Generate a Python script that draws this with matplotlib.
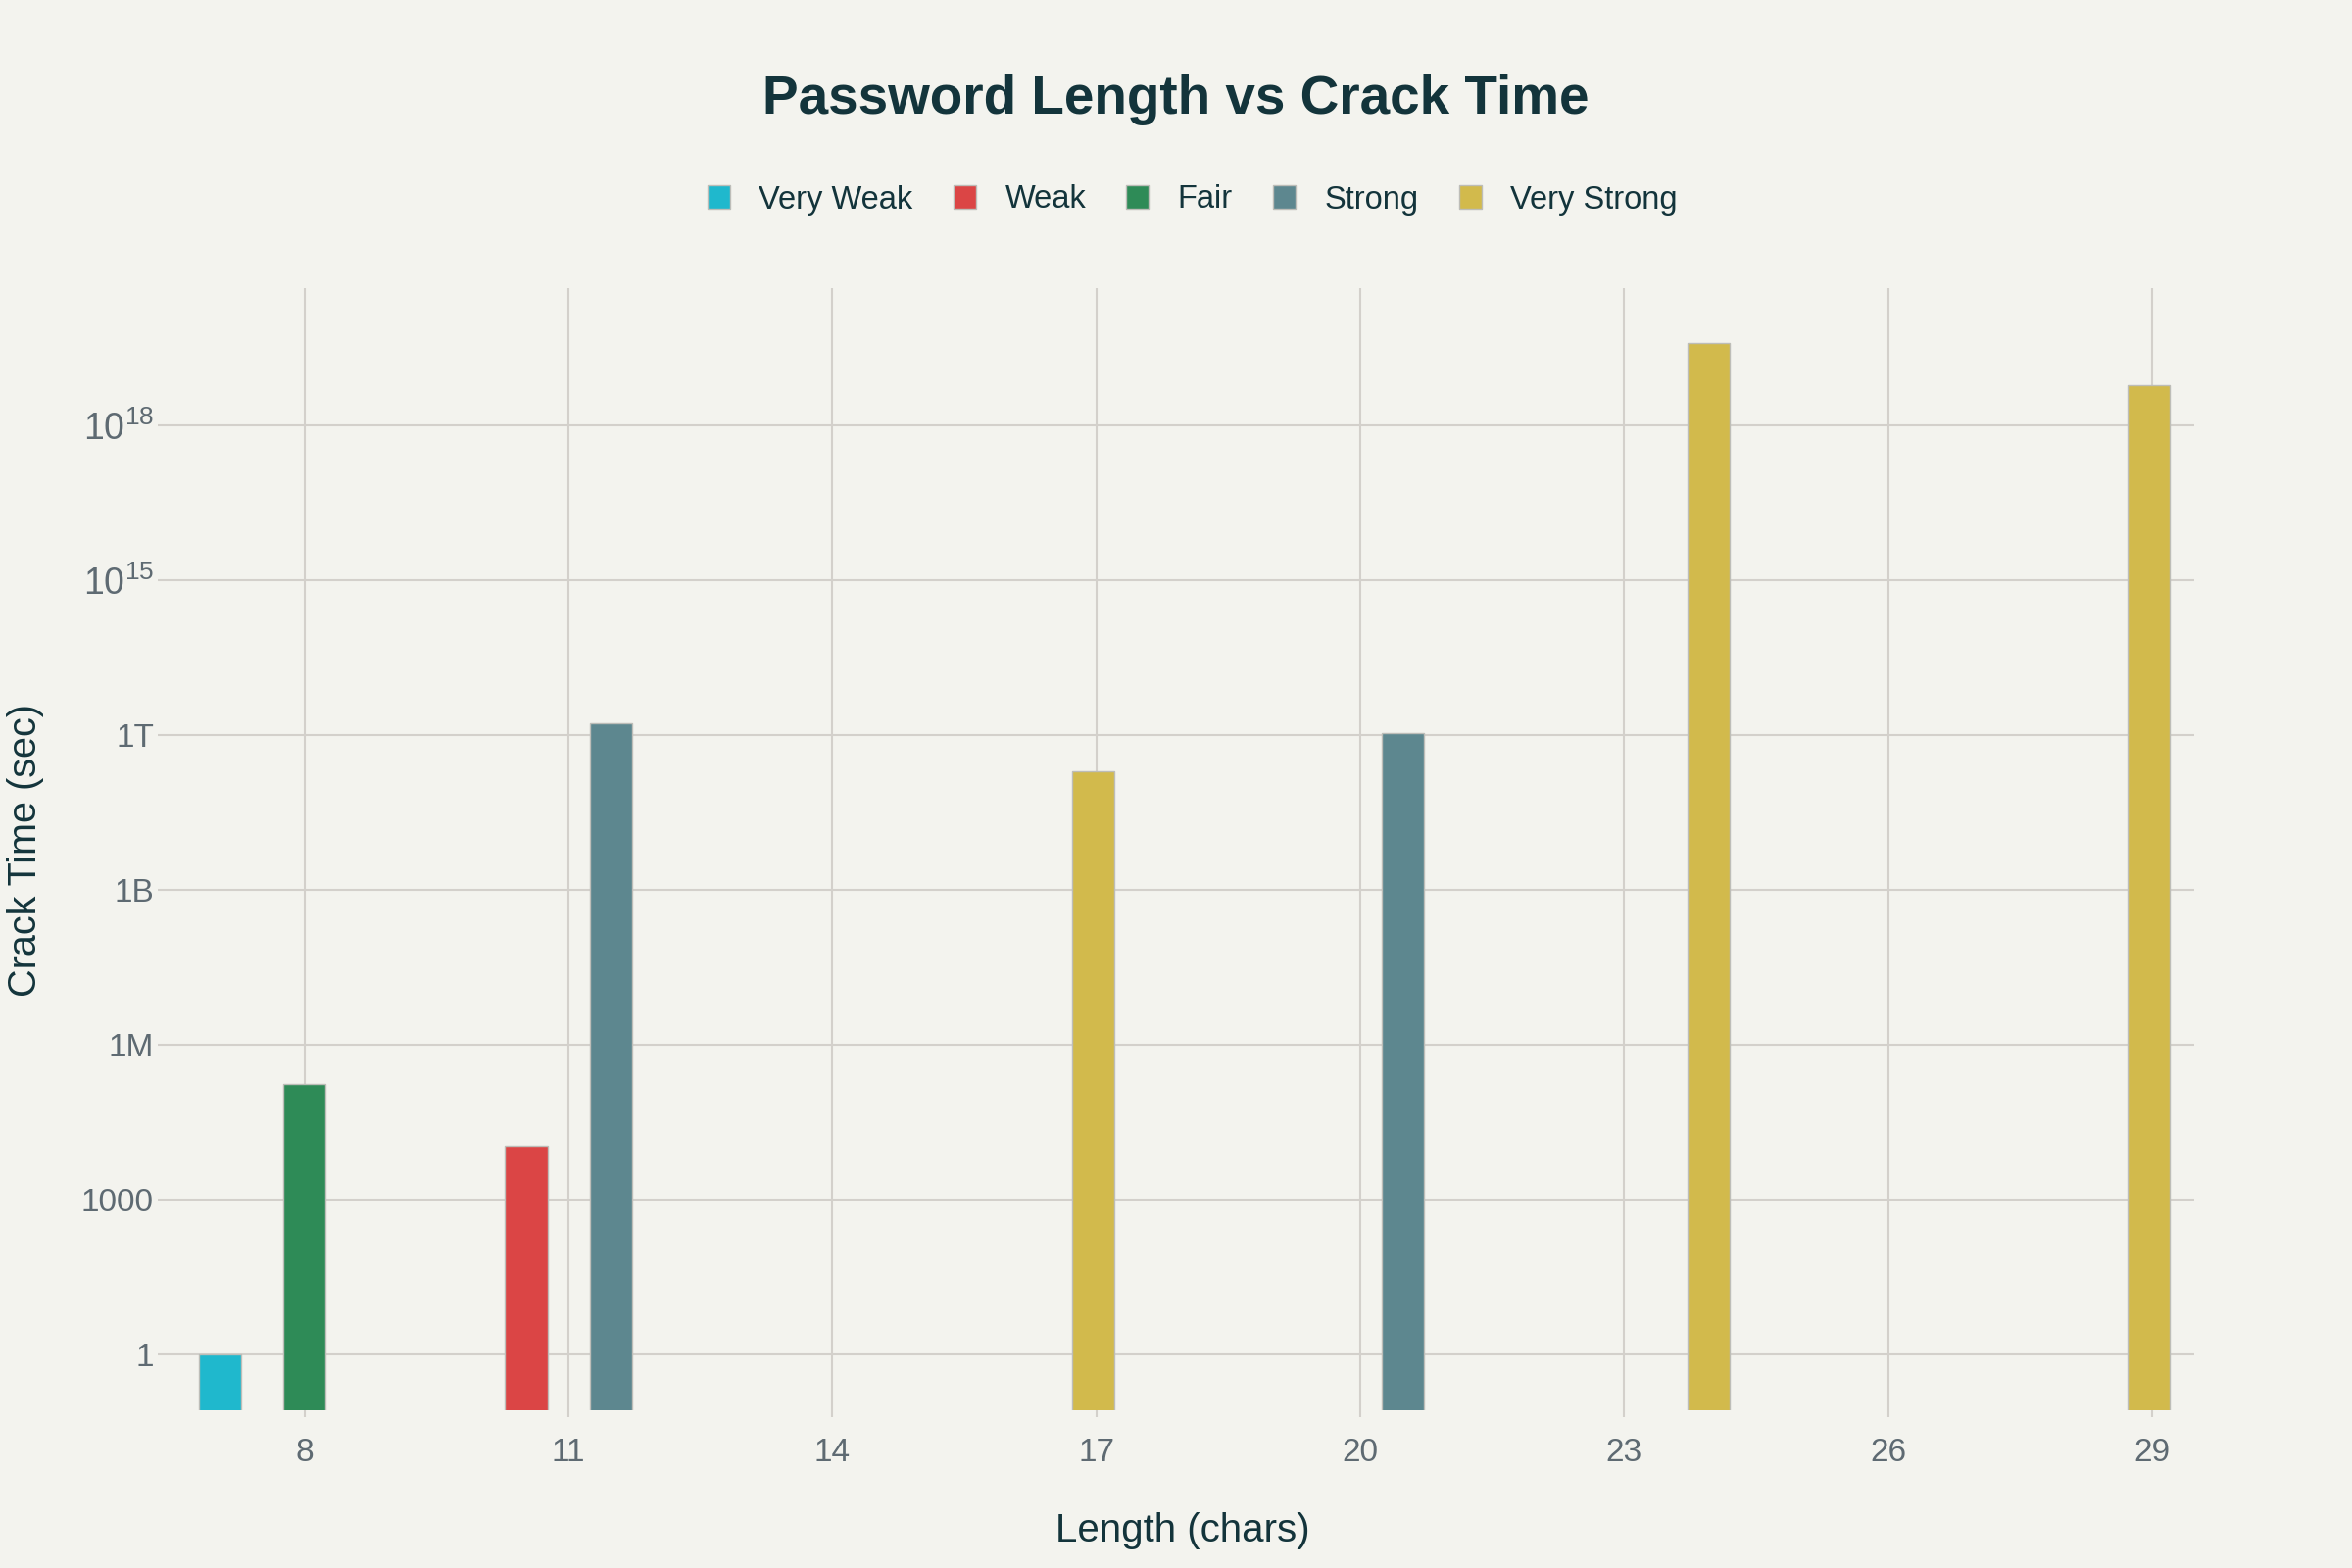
import matplotlib
matplotlib.use('Agg')
import matplotlib.pyplot as plt
from matplotlib.patches import Patch
import numpy as np

plt.rcParams['font.family'] = ['Liberation Sans', 'DejaVu Sans']
plt.rcParams['mathtext.fontset'] = 'custom'
plt.rcParams['mathtext.rm'] = 'Liberation Sans'

BG = '#F3F3EE'
TXT = '#13343B'
TICK = '#5E6A72'
GRID = '#D3D0CB'

# -------------------------------------------------------------
# data (crack time in seconds, log scale)

categories = ['Very Weak', 'Weak', 'Fair', 'Strong', 'Very Strong']
colors = ['#1FB8CD', '#DB4545', '#2E8B57', '#5D878F', '#D2BA4C']

len_very_weak = [8]
time_very_weak = [1.0]

len_weak = [11]
time_weak = [1.1e4]

len_fair = [8]
time_fair = [1.7e5]

len_strong = [11, 20]
time_strong = [1.7e12, 1.1e12]

len_very_strong = [16, 23, 28]
time_very_strong = [2.0e11, 4.0e19, 6.0e18]

series_len = [len_very_weak, len_weak, len_fair, len_strong, len_very_strong]
series_time = [time_very_weak, time_weak, time_fair, time_strong, time_very_strong]

xtick_vals = [8, 11, 14, 17, 20, 23, 26, 29]
ytick_vals = [1, 1e3, 1e6, 1e9, 1e12, 1e15, 1e18]
ytick_labels = ['1', '1000', '1M', '1B', '1T', r'$10^{15}$', r'$10^{18}$']

# -------------------------------------------------------------

if __name__ == '__main__':

    fig = plt.figure(figsize=(24, 16), dpi=100, facecolor=BG)
    ax = fig.add_axes([0.070, 0.1006, 0.863, 0.7154])
    ax.set_facecolor(BG)

    # grouped bars: group width = 0.8 * smallest gap between lengths
    all_x = sorted(set(x for s in series_len for x in s))
    min_gap = np.min(np.diff(all_x))
    bar_w = 0.8 * min_gap / len(categories)

    for n, (xs, ts) in enumerate(zip(series_len, series_time)):
        offset = (n - (len(categories) - 1) / 2.0) * bar_w
        ax.bar(np.array(xs) + offset, ts, width=bar_w, bottom=1e-5,
               color=colors[n], edgecolor='#BDBDB8', linewidth=1.0,
               label=categories[n], zorder=3)

    ax.set_yscale('log')
    ax.set_ylim(10 ** -1.09, 10 ** 20.65)
    ax.set_xlim(6.41, 29.48)

    ax.yaxis.set_minor_locator(matplotlib.ticker.NullLocator())
    ax.set_yticks(ytick_vals)
    ax.set_yticklabels(ytick_labels, fontsize=24, color=TICK)
    ax.set_xticks(xtick_vals)
    ax.set_xticklabels([str(v) for v in xtick_vals], fontsize=24, color=TICK)
    for lab in ax.get_yticklabels():
        if '$' in lab.get_text():
            lab.set_fontsize(27)

    ax.tick_params(axis='both', colors=GRID, labelcolor=TICK, length=5, width=1.5)
    ax.tick_params(axis='y', pad=3)
    ax.tick_params(axis='x', pad=15)

    ax.set_axisbelow(True)
    ax.yaxis.grid(color=GRID, linestyle='-', linewidth=1.5)
    ax.xaxis.grid(color=GRID, linestyle='-', linewidth=1.5)
    for sp in ax.spines.values():
        sp.set_visible(False)

    fig.text(0.5, 0.936, 'Password Length vs Crack Time', ha='center', va='center',
             fontsize=39.5, fontweight='bold', color=TXT)
    fig.text(0.503, 0.024, 'Length (chars)', ha='center', va='center',
             fontsize=29, color=TXT)
    fig.text(0.011, 0.458, 'Crack Time (sec)', ha='center', va='center',
             rotation=90, fontsize=28.5, color=TXT)

    handles = [Patch(facecolor=c, edgecolor='#BDBDB8', label=l)
               for c, l in zip(colors, categories)]
    fig.legend(handles=handles, loc='center', bbox_to_anchor=(0.507, 0.8725),
               ncol=5, frameon=False, fontsize=23.5, labelcolor=TXT,
               handlelength=0.72, handleheight=0.72, handletextpad=0.9,
               columnspacing=1.25)

    fig.savefig('out.png', dpi=100, facecolor=BG)
